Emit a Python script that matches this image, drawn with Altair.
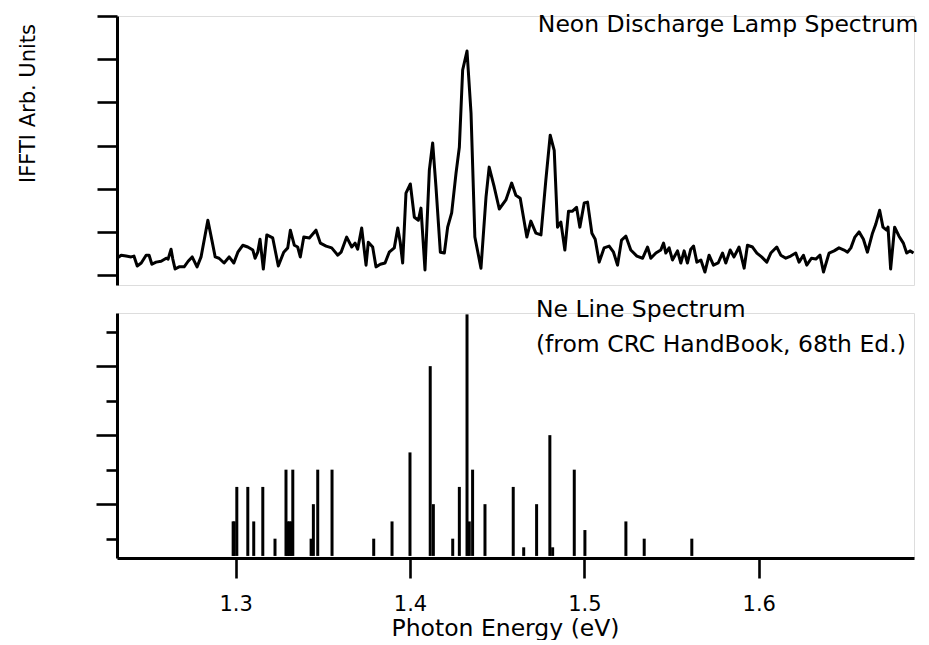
import altair as alt
import pandas as pd

FONT = "DejaVu Sans"

# ---- top panel: measured |FFT| spectrum (photon energy in eV, arbitrary units)
scan_energy = [
    1.2320, 1.2344, 1.2372, 1.2401, 1.2417, 1.2436, 1.2459, 1.2487, 1.2504, 1.2520,
    1.2544, 1.2573, 1.2602, 1.2613, 1.2630, 1.2640, 1.2653, 1.2676, 1.2705, 1.2728,
    1.2751, 1.2779, 1.2802, 1.2841, 1.2864, 1.2883, 1.2905, 1.2934, 1.2963, 1.2990,
    1.3013, 1.3041, 1.3070, 1.3099, 1.3112, 1.3127, 1.3140, 1.3159, 1.3179, 1.3213,
    1.3245, 1.3276, 1.3299, 1.3314, 1.3337, 1.3356, 1.3371, 1.3391, 1.3423, 1.3461,
    1.3486, 1.3519, 1.3551, 1.3586, 1.3605, 1.3637, 1.3666, 1.3685, 1.3700, 1.3723,
    1.3748, 1.3761, 1.3786, 1.3805, 1.3830, 1.3857, 1.3881, 1.3910, 1.3930, 1.3944,
    1.3958, 1.3977, 1.4002, 1.4025, 1.4048, 1.4063, 1.4086, 1.4111, 1.4130, 1.4149,
    1.4174, 1.4197, 1.4216, 1.4239, 1.4264, 1.4283, 1.4302, 1.4327, 1.4350, 1.4372,
    1.4407, 1.4436, 1.4454, 1.4483, 1.4512, 1.4550, 1.4583, 1.4607, 1.4632, 1.4670,
    1.4693, 1.4722, 1.4751, 1.4779, 1.4804, 1.4827, 1.4846, 1.4865, 1.4888, 1.4909,
    1.4932, 1.4955, 1.4974, 1.4999, 1.5018, 1.5043, 1.5062, 1.5085, 1.5113, 1.5142,
    1.5167, 1.5190, 1.5213, 1.5238, 1.5266, 1.5301, 1.5334, 1.5362, 1.5381, 1.5410,
    1.5438, 1.5454, 1.5467, 1.5486, 1.5505, 1.5534, 1.5553, 1.5572, 1.5591, 1.5610,
    1.5626, 1.5645, 1.5668, 1.5691, 1.5715, 1.5740, 1.5767, 1.5792, 1.5811, 1.5836,
    1.5858, 1.5887, 1.5916, 1.5935, 1.5964, 1.5989, 1.6016, 1.6046, 1.6069, 1.6103,
    1.6126, 1.6155, 1.6183, 1.6212, 1.6231, 1.6256, 1.6275, 1.6302, 1.6327, 1.6351,
    1.6371, 1.6403, 1.6432, 1.6460, 1.6489, 1.6509, 1.6528, 1.6551, 1.6575, 1.6600,
    1.6623, 1.6652, 1.6671, 1.6693, 1.6712, 1.6733, 1.6741, 1.6756, 1.6779, 1.6804,
    1.6829, 1.6848, 1.6867, 1.6887,
]
scan_amplitude = [
    0.39, 0.46, 0.44, 0.42, 0.44, 0.21, 0.28, 0.46, 0.46, 0.25,
    0.30, 0.32, 0.39, 0.37, 0.60, 0.37, 0.14, 0.19, 0.19, 0.32,
    0.42, 0.19, 0.42, 1.27, 0.81, 0.42, 0.39, 0.28, 0.42, 0.28,
    0.53, 0.69, 0.65, 0.58, 0.39, 0.53, 0.83, 0.14, 0.93, 0.86,
    0.21, 0.53, 0.63, 1.04, 0.69, 0.65, 0.42, 0.88, 0.86, 1.04,
    0.74, 0.67, 0.63, 0.46, 0.53, 0.88, 0.65, 0.74, 0.60, 1.09,
    0.23, 0.76, 0.65, 0.19, 0.25, 0.28, 0.53, 0.63, 1.09, 0.76,
    0.28, 1.90, 2.11, 1.34, 1.27, 1.55, 0.12, 2.43, 3.06, 2.04,
    0.53, 0.51, 1.11, 1.44, 2.36, 2.96, 4.75, 5.19, 3.75, 0.88,
    0.16, 1.81, 2.50, 2.04, 1.53, 1.74, 2.13, 1.85, 1.78, 0.88,
    1.25, 0.97, 0.93, 2.20, 3.24, 2.89, 1.11, 1.23, 0.58, 1.48,
    1.48, 1.57, 1.11, 1.67, 1.69, 0.97, 0.83, 0.30, 0.63, 0.67,
    0.53, 0.23, 0.81, 0.90, 0.58, 0.44, 0.39, 0.65, 0.39, 0.51,
    0.58, 0.74, 0.51, 0.63, 0.35, 0.56, 0.28, 0.56, 0.28, 0.60,
    0.67, 0.30, 0.35, 0.07, 0.46, 0.23, 0.28, 0.51, 0.28, 0.58,
    0.42, 0.65, 0.16, 0.69, 0.65, 0.51, 0.42, 0.30, 0.51, 0.65,
    0.46, 0.39, 0.44, 0.51, 0.30, 0.46, 0.23, 0.39, 0.37, 0.46,
    0.07, 0.51, 0.56, 0.63, 0.58, 0.53, 0.63, 0.88, 1.00, 0.83,
    0.53, 0.97, 1.18, 1.50, 1.11, 1.04, 1.11, 0.14, 1.11, 0.90,
    0.74, 0.51, 0.56, 0.51,
]

# ---- bottom panel: Ne line spectrum (CRC Handbook), relative strength
line_energy = [
    1.2986, 1.2992, 1.3007, 1.3070, 1.3104, 1.3156, 1.3226, 1.3289, 1.3298, 1.3308,
    1.3318, 1.3328, 1.3433, 1.3446, 1.3471, 1.3553, 1.3792, 1.3897, 1.4000, 1.4116,
    1.4134, 1.4245, 1.4283, 1.4327, 1.4340, 1.4359, 1.4430, 1.4592, 1.4652, 1.4726,
    1.4802, 1.4818, 1.4942, 1.5003, 1.5238, 1.5343, 1.5616,
]
line_strength = [
    1.0, 1.0, 2.0, 2.0, 1.0, 2.0, 0.5, 2.5, 1.0, 1.0,
    1.0, 2.5, 0.5, 1.5, 2.5, 2.5, 0.5, 1.0, 3.0, 5.5,
    1.5, 0.5, 2.0, 7.0, 1.0, 2.5, 1.5, 2.0, 0.25, 1.5,
    3.5, 0.25, 2.5, 0.75, 1.0, 0.5, 0.5,
]

x_ticks = [1.3, 1.4, 1.5, 1.6]
top_y_ticks = [0, 1, 2, 3, 4, 5, 6]
bottom_y_ticks = [0.5, 1.5, 2.5, 3.5, 4.5, 5.5, 6.5]

top_label = ["Neon Discharge Lamp Spectrum"]
top_label_pos = ([1.4733], [5.625])
bottom_labels = ["Ne Line Spectrum", "(from CRC HandBook, 68th Ed.)"]
bottom_label_pos = ([1.4722, 1.4722], [6.93, 5.91])

X_DOMAIN = [1.232, 1.689]
W = 797
H_TOP = 269
H_BOT = 245

scan = pd.DataFrame({"E": scan_energy, "A": scan_amplitude})
lines = pd.DataFrame({"E": line_energy, "S": line_strength, "base": [0.0] * len(line_energy)})
top_txt = pd.DataFrame({"E": top_label_pos[0], "A": top_label_pos[1], "t": top_label})
bot_txt = pd.DataFrame({"E": bottom_label_pos[0], "S": bottom_label_pos[1], "t": bottom_labels})

x_top = alt.X("E:Q", scale=alt.Scale(domain=X_DOMAIN, nice=False, zero=False), axis=None)
y_top_scale = alt.Scale(domain=[-0.23, 6], nice=False, zero=False)

top_line = alt.Chart(scan).mark_line(color="black", strokeWidth=3.0, clip=True, strokeJoin="round").encode(
    x=x_top,
    y=alt.Y(
        "A:Q",
        scale=y_top_scale,
        axis=alt.Axis(
            values=top_y_ticks, labels=False, tickSize=20, tickWidth=2.6,
            domainWidth=3, domainColor="black", tickColor="black", grid=False,
            title="IFFTI Arb. Units", titleFontSize=21, titleFont=FONT,
            titleFontWeight="normal", titleColor="black",
            titleX=-89, titleY=87, titleAngle=270, titleAlign="center",
            titleBaseline="middle",
        ),
    ),
)
top_text = alt.Chart(top_txt).mark_text(
    align="left", baseline="alphabetic", fontSize=23.5, font=FONT, color="black"
).encode(x=x_top, y=alt.Y("A:Q", scale=y_top_scale), text="t:N")

top = alt.layer(top_line, top_text).properties(width=W, height=H_TOP)

x_bot = alt.X(
    "E:Q",
    scale=alt.Scale(domain=X_DOMAIN, nice=False, zero=False),
    axis=alt.Axis(
        values=x_ticks, format=".1f", tickSize=20, tickWidth=2.6, domainWidth=3,
        domainColor="black", tickColor="black", grid=False,
        labelFontSize=21, labelFont=FONT, labelColor="black", labelPadding=15,
        title="Photon Energy (eV)", titleFontSize=23.5, titleFont=FONT,
        titleFontWeight="normal", titleColor="black",
        titleX=388, titleY=77, titleAlign="center", titleBaseline="alphabetic",
    ),
)
y_bot_scale = alt.Scale(domain=[-0.06, 7.04], nice=False, zero=False)

bars = alt.Chart(lines).mark_rule(color="black", strokeWidth=3.0).encode(
    x=x_bot,
    y=alt.Y(
        "base:Q",
        scale=y_bot_scale,
        axis=alt.Axis(
            values=bottom_y_ticks, labels=False,
            tickSize={"condition": {"test": "datum.value == 1.5 || datum.value == 3.5 || datum.value == 5.5", "value": 21}, "value": 11},
            tickWidth=2.6, domainWidth=3, domainColor="black", tickColor="black",
            grid=False, title=None,
        ),
    ),
    y2="S:Q",
)
bot_text = alt.Chart(bot_txt).mark_text(
    align="left", baseline="alphabetic", fontSize=23.5, font=FONT, color="black"
).encode(x=alt.X("E:Q", scale=alt.Scale(domain=X_DOMAIN, nice=False, zero=False)),
         y=alt.Y("S:Q", scale=y_bot_scale), text="t:N")

bottom = alt.layer(bars, bot_text).properties(width=W, height=H_BOT)

chart = (
    alt.vconcat(top, bottom, spacing=28, bounds="flush")
    .properties(padding={"left": 8, "top": 4, "right": 0, "bottom": 0})
    .configure_view(stroke=None)
    .configure(background="white")
)

chart.save("out.html", embed_options={"renderer": "svg", "actions": False})
